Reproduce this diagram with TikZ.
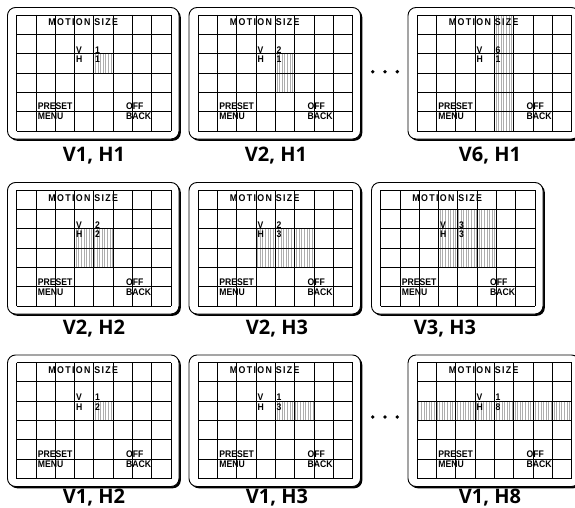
\documentclass[tikz,border=0pt]{standalone}
\usepackage{fontspec}
\newfontfamily\gridfont{Liberation Sans}[FakeStretch=0.9]
\newfontfamily\titlefont{Liberation Sans}[FakeStretch=0.9,LetterSpace=14]
\newfontfamily\labelfont{Open Sans}
\tikzset{
  gridline/.style={line width=0.9pt, black},
  shadeline/.style={line width=0.4pt, black!32},
  gtext/.style={anchor=base west, inner sep=0pt, font=\gridfont\bfseries\fontsize{9.6}{10}\selectfont},
  ttext/.style={anchor=base west, inner sep=0pt, font=\titlefont\bfseries\fontsize{9.8}{10}\selectfont},
  caption/.style={anchor=base, inner sep=0pt, font=\labelfont\bfseries\fontsize{20}{24}\selectfont},
  dotmark/.style={fill=black}
}
\newcommand\mypanel[9]{%
  \begin{scope}[shift={(#1,#2)}]
    \fill[black, rounded corners=8pt] (1.8,1.8) rectangle (173.3,133.3);
    \filldraw[fill=white, draw=black, line width=0.9pt, rounded corners=8pt] (0,0) rectangle (171.5,131.5);
    \begin{scope}[shift={(9.2,7.5)}]
      \pgfmathsetmacro\xa{#5*19.3}
      \pgfmathsetmacro\xb{(#6+1)*19.3}
      \pgfmathsetmacro\ya{#7*19.333}
      \pgfmathsetmacro\yb{(#8+1)*19.333}
      \pgfmathsetmacro\xs{\xa+1.3}
      \pgfmathsetmacro\xt{\xa+3.9}
      \foreach \xx in {\xs,\xt,...,\xb} {\draw[shadeline] (\xx,\ya) -- (\xx,\yb);}
      \foreach \i in {0,...,8} {\draw[gridline] (\i*19.3,0) -- (\i*19.3,116);}
      \foreach \j in {0,...,6} {\draw[gridline] (0,\j*19.333) -- (154.4,\j*19.333);}
      \node[ttext] (#9-title) at (31.5,11) {MOTION SIZE};
      \node[gtext] (#9-v) at (59.3,38.3) {V};
      \node[gtext] (#9-vn) at (78.3,38.3) {#3};
      \node[gtext] (#9-h) at (59.3,47.5) {H};
      \node[gtext] (#9-hn) at (78.3,47.5) {#4};
      \node[gtext] (#9-preset) at (21,95) {PRESET};
      \node[gtext] (#9-menu) at (21,105) {MENU};
      \node[gtext] (#9-off) at (109.3,95) {OFF};
      \node[gtext] (#9-back) at (109.3,105) {BACK};
    \end{scope}
  \end{scope}}
\begin{document}
\begin{tikzpicture}[x=1pt,y=-1pt]
\useasboundingbox (0,0) rectangle (575,508);
\clip (0,0) rectangle (575,508);
\fill[white] (0,0) rectangle (575,508);
% row 1
\mypanel{7.5}{7.5}{1}{1}{4}{4}{2}{2}{pa}
\mypanel{189}{7.5}{2}{1}{4}{4}{2}{3}{pb}
\mypanel{408}{7.5}{6}{1}{4}{4}{0}{5}{pc}
% row 2
\mypanel{7.5}{182.5}{2}{2}{3}{4}{2}{3}{pd}
\mypanel{189}{182.5}{2}{3}{3}{5}{2}{3}{pe}
\mypanel{371.5}{182.5}{3}{3}{3}{5}{1}{3}{pf}
% row 3
\mypanel{7.5}{355}{1}{2}{4}{4}{2}{2}{pg}
\mypanel{189}{355}{1}{3}{4}{5}{2}{2}{ph}
\mypanel{408}{355}{1}{8}{0}{7}{2}{2}{pi}
% dots
\foreach \dx in {372.7,385,397.3} {
  \fill[dotmark] (\dx,71.7) circle (1.9);
  \fill[dotmark] (\dx,417) circle (1.9);
}
% captions
\node[caption] (la) at (94,161) {V1, H1};
\node[caption] (lb) at (276,161) {V2, H1};
\node[caption] (lc) at (490,161) {V6, H1};
\node[caption] (ld) at (94,334) {V2, H2};
\node[caption] (le) at (277,334) {V2, H3};
\node[caption] (lf) at (445,334) {V3, H3};
\node[caption] (lg) at (94,503) {V1, H2};
\node[caption] (lh) at (277,503) {V1, H3};
\node[caption] (li) at (490,503) {V1, H8};
\end{tikzpicture}
\end{document}
